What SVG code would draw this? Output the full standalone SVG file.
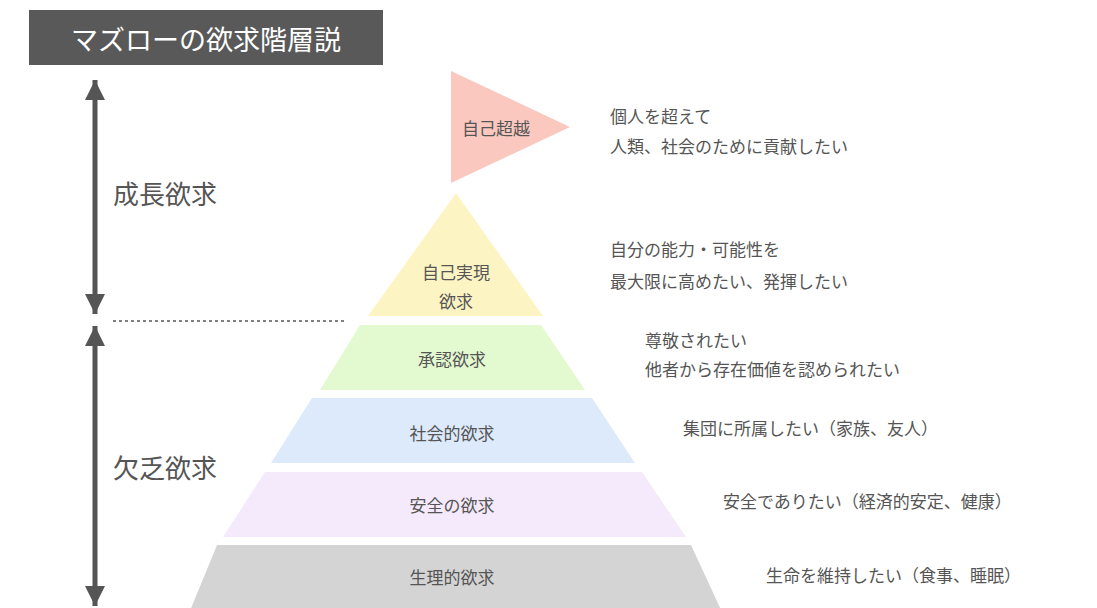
<svg xmlns="http://www.w3.org/2000/svg" width="1097" height="608" viewBox="0 0 1097 608">
<style>
text{font-family:"Noto Sans CJK JP","Noto Sans",sans-serif;fill:#555}
.lv{font-size:17px;text-anchor:middle;dominant-baseline:central}
.d{font-size:17px;dominant-baseline:central}
.big{font-size:26px;dominant-baseline:central}
</style>
<defs>
<marker id="ah" viewBox="0 0 10 10" refX="10" refY="5" markerWidth="4" markerHeight="4" orient="auto-start-reverse"><path d="M0,0L10,5L0,10z" fill="#555"/></marker>
</defs>
<rect width="1097" height="608" fill="#fff"/>
<g id="title"><rect x="29" y="10" width="354" height="55" fill="#595959"/><text x="206" y="38" style="font-size:27px;fill:#fff;text-anchor:middle;dominant-baseline:central">マズローの欲求階層説</text></g>
<g id="connectors">
<line x1="95" y1="80" x2="95" y2="314" stroke="#555" stroke-width="5" marker-start="url(#ah)" marker-end="url(#ah)"/>
<line x1="95" y1="326" x2="95" y2="606" stroke="#555" stroke-width="5" marker-start="url(#ah)" marker-end="url(#ah)"/>
<line x1="113" y1="321" x2="345" y2="321" stroke="#555" stroke-width="1.5" stroke-dasharray="3,3"/>
</g>
<g id="growth"><text class="big" x="113" y="192">成長欲求</text></g>
<g id="deficit"><text class="big" x="113" y="466">欠乏欲求</text></g>
<g id="l6"><polygon points="451,71 451,183 570,127" fill="#fbc8c0"/><text class="lv" x="496" y="127">自己超越</text></g>
<g id="l5"><polygon points="456,193 368,316 543,316" fill="#fdf4c4"/><text class="lv" x="456" y="271">自己実現</text><text class="lv" x="456" y="300">欲求</text></g>
<g id="l4"><polygon points="360,325 541,325 585,390 320,390" fill="#e3f9d0"/><text class="lv" x="452" y="358">承認欲求</text></g>
<g id="l3"><polygon points="312,398 592,398 635,463 271,463" fill="#dceafc"/><text class="lv" x="452" y="432">社会的欲求</text></g>
<g id="l2"><polygon points="265,472 642,472 686,537 223,537" fill="#f5eafb"/><text class="lv" x="452" y="504">安全の欲求</text></g>
<g id="l1"><polygon points="217,545 691,545 735,640 178,640" fill="#d4d4d4"/><text class="lv" x="452" y="576">生理的欲求</text></g>
<g id="desc">
<text class="d" x="610" y="115">個人を超えて</text>
<text class="d" x="610" y="145">人類、社会のために貢献したい</text>
<text class="d" x="610" y="248">自分の能力・可能性を</text>
<text class="d" x="610" y="280">最大限に高めたい、発揮したい</text>
<text class="d" x="645" y="339">尊敬されたい</text>
<text class="d" x="645" y="368">他者から存在価値を認められたい</text>
<text class="d" x="683" y="427">集団に所属したい（家族、友人）</text>
<text class="d" x="723" y="500">安全でありたい（経済的安定、健康）</text>
<text class="d" x="766" y="574">生命を維持したい（食事、睡眠）</text>
</g>
</svg>
